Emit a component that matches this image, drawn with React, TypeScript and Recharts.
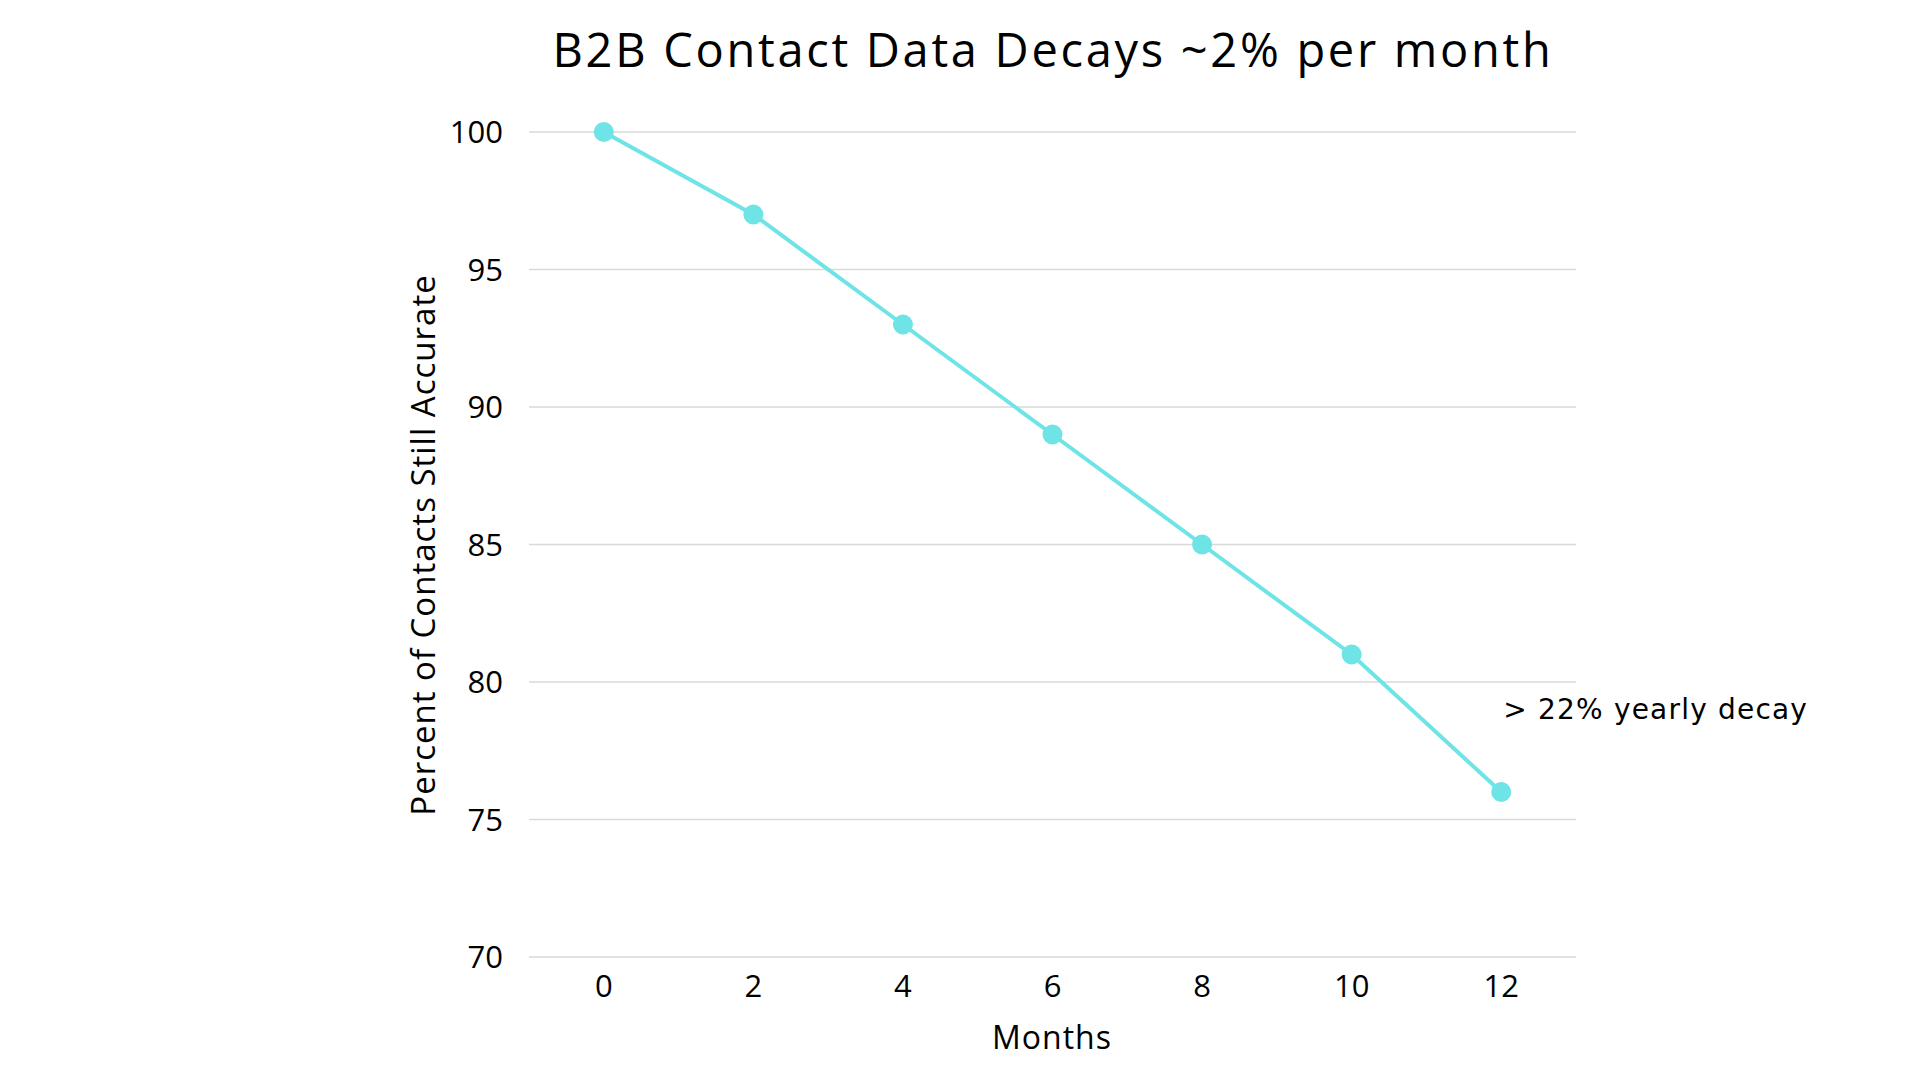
import React from "react"
import { LineChart, Line, XAxis, YAxis, CartesianGrid, ReferenceDot } from "recharts"

// Contact accuracy by month
const months = [0, 2, 4, 6, 8, 10, 12]
const accuracy = [100, 97, 93, 89, 85, 81, 76]
const xTicks = [0, 2, 4, 6, 8, 10, 12]
const yTicks = [70, 75, 80, 85, 90, 95, 100]

const title = "B2B Contact Data Decays ~2% per month"
const xLabel = "Months"
const yLabel = "Percent of Contacts Still Accurate"
const note = "> 22% yearly decay"
const noteAt = { x: 12, y: 78.65 }

const LINE = "#6ee4e7"
const GRID = "#d9d9d9"
const MAIN_FONT = "'Open Sans', sans-serif"
const NOTE_FONT = "'DejaVu Sans', sans-serif"

const data = months.map((m, i) => ({ month: m, pct: accuracy[i] }))

export default function App() {
  return (
    <div style={{ position: "relative", width: 1920, height: 1080, background: "#fff" }}>
      <style>{`body{margin:0}`}</style>
      <LineChart
        width={1920}
        height={1080}
        data={data}
        margin={{ top: 132, right: 344, bottom: 63, left: 449 }}
      >
        <CartesianGrid vertical={false} stroke={GRID} strokeWidth={1.5} />
        <XAxis
          dataKey="month"
          type="number"
          domain={[-1, 13]}
          ticks={xTicks}
          axisLine={false}
          tickLine={false}
          height={60}
          tickMargin={12}
          tick={{ fontSize: 31, fill: "#000", fontFamily: MAIN_FONT }}
        />
        <YAxis
          domain={[70, 100]}
          ticks={yTicks}
          axisLine={false}
          tickLine={false}
          width={80}
          tickMargin={20}
          tick={{ fontSize: 31, fill: "#000", fontFamily: MAIN_FONT }}
        />
        <Line
          type="linear"
          dataKey="pct"
          stroke={LINE}
          strokeWidth={4}
          dot={{ r: 10, fill: LINE, stroke: LINE, strokeWidth: 0 }}
          activeDot={false}
          isAnimationActive={false}
        />
        <ReferenceDot
          x={noteAt.x}
          y={noteAt.y}
          r={0}
          fill="none"
          stroke="none"
          label={{
            content: (p: any) => (
              <text
                x={p.viewBox.x + 2}
                y={p.viewBox.y}
                fontSize={28}
                letterSpacing={1.2}
                fontFamily={NOTE_FONT}
                fill="#000"
                textAnchor="start"
              >
                {note}
              </text>
            ),
          }}
        />
      </LineChart>

      {/* static titles */}
      <svg
        width={1920}
        height={1080}
        style={{ position: "absolute", left: 0, top: 0, pointerEvents: "none" }}
      >
        <text x={1053} y={67} textAnchor="middle" fontSize={47} letterSpacing={2.7} fontFamily={MAIN_FONT} fill="#000">
          {title}
        </text>
        <text x={1052} y={1049} textAnchor="middle" fontSize={32} letterSpacing={1} fontFamily={MAIN_FONT} fill="#000">
          {xLabel}
        </text>
        <text
          x={435}
          y={545}
          textAnchor="middle"
          fontSize={33}
          letterSpacing={1}
          fontFamily={MAIN_FONT}
          fill="#000"
          transform="rotate(-90 435 545)"
        >
          {yLabel}
        </text>
      </svg>
    </div>
  )
}
